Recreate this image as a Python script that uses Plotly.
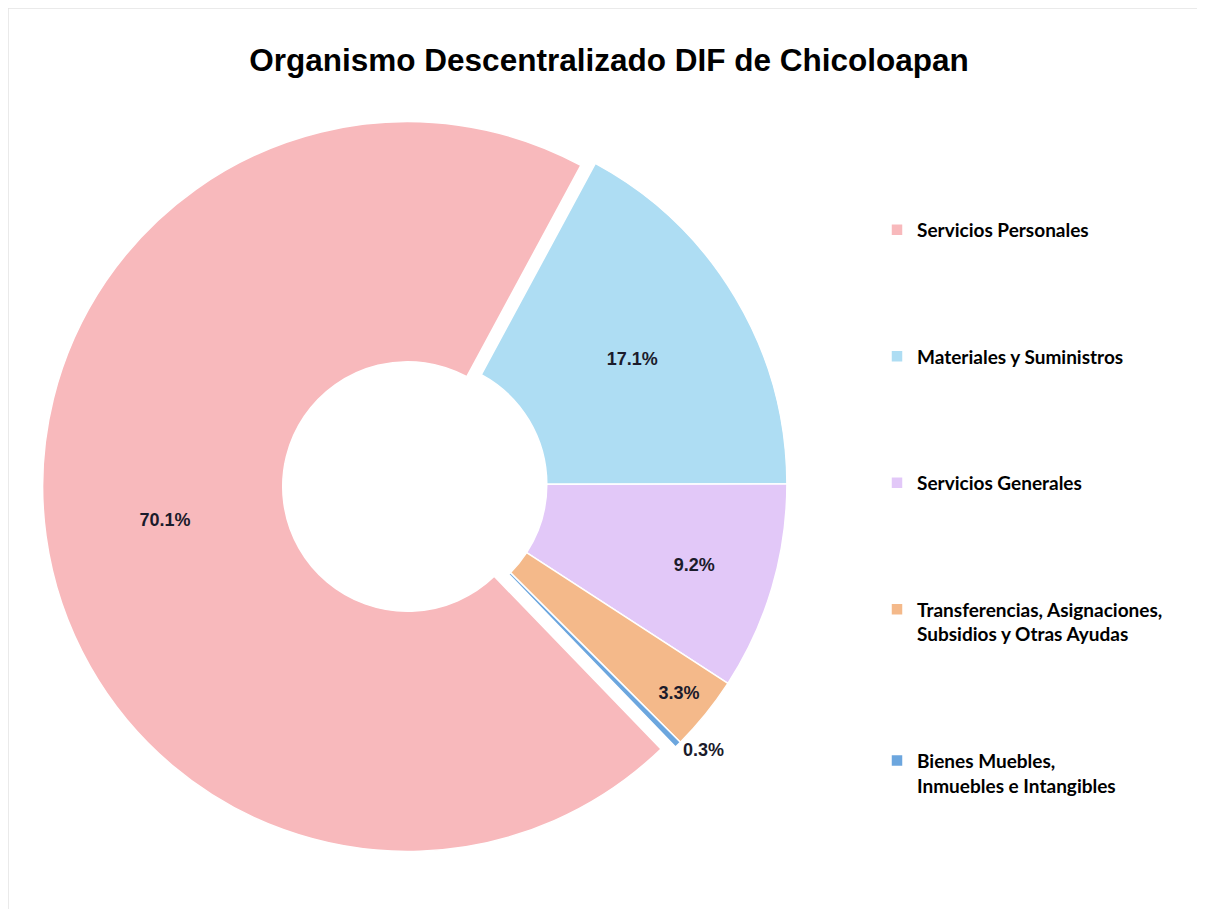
import plotly.graph_objects as go

# ---- data ----
categories = [
    "Servicios Personales",
    "Materiales y Suministros",
    "Servicios Generales",
    "Transferencias, Asignaciones,<br>Subsidios y Otras Ayudas",
    "Bienes Muebles,<br>Inmuebles e Intangibles",
]
values = [70.1, 17.1, 9.2, 3.3, 0.3]
title_text = "Organismo Descentralizado DIF de Chicoloapan"

# ---- styles ----
colors = ["#F8B9BC", "#AEDDF3", "#E2C8F8", "#F4B98A", "#6CA6DE"]
pulls = [0.04, 0, 0, 0, 0]
positions = ["inside", "inside", "inside", "inside", "outside"]
legend_pad = [4, 4, 4, 4, 0]  # blank lines to space legend entries

legend_labels = [c + "<br> " * p for c, p in zip(categories, legend_pad)]
clean_names = [c.replace("<br>", " ") for c in categories]

W, H = 1205, 909
SANS = "Liberation Sans, Arial"
label_font = dict(family=SANS, size=18, color="#1b1b2b", weight="bold")

fig = go.Figure(
    go.Pie(
        labels=legend_labels,
        values=values,
        customdata=clean_names,
        hovertemplate="%{customdata}: %{percent}<extra></extra>",
        sort=False,
        direction="clockwise",
        rotation=136,
        hole=0.342,
        pull=pulls,
        marker=dict(colors=colors, line=dict(color="white", width=1.5)),
        textinfo="percent",
        texttemplate="%{value:.1f}%",
        textposition=positions,
        insidetextorientation="horizontal",
        textfont=label_font,
        insidetextfont=label_font,
        outsidetextfont=label_font,
        domain=dict(x=[34.4 / W, 793.6 / W], y=[1 - 856 / H, 1 - 97 / H]),
        showlegend=True,
    )
)

fig.update_layout(
    width=W,
    height=H,
    margin=dict(l=0, r=0, t=0, b=0),
    paper_bgcolor="white",
    plot_bgcolor="white",
    title=dict(
        text="<b>" + title_text + "</b>",
        x=601 / W,
        xanchor="center",
        y=1 - 52 / H,
        yanchor="middle",
        font=dict(family=SANS, size=31.5, color="black"),
    ),
    uniformtext=dict(minsize=18, mode="show"),
    legend=dict(
        x=869 / W,
        xanchor="left",
        y=1 - 203 / H,
        yanchor="top",
        valign="top",
        font=dict(family="Lato, Open Sans, sans-serif", size=19, color="black", weight="bold"),
        bgcolor="rgba(0,0,0,0)",
        traceorder="normal",
    ),
    shapes=[
        dict(
            type="rect",
            xref="paper",
            yref="paper",
            x0=0,
            x1=1 + 10 / W,
            y0=-10 / H,
            y1=1,
            line=dict(color="#E4E4E4", width=1.5),
            fillcolor="rgba(0,0,0,0)",
            layer="below",
        )
    ],
)

fig.write_html("out.html")
